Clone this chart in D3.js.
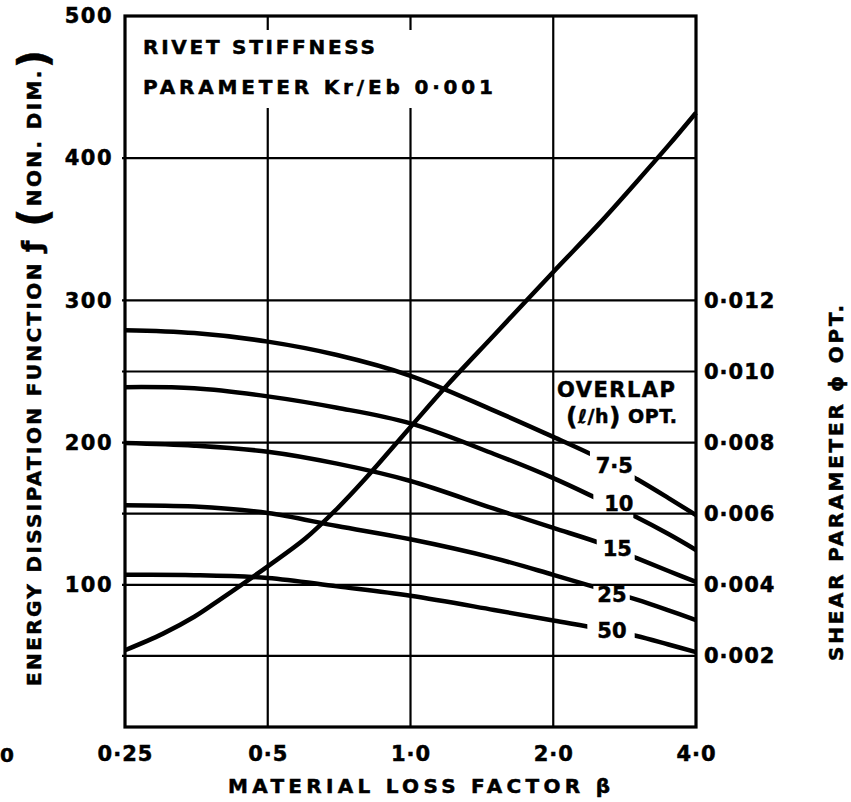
<!DOCTYPE html>
<html>
<head>
<meta charset="utf-8">
<script src="https://cdn.jsdelivr.net/npm/d3@7"></script>
<style>
  body { margin: 0; background: #fff; }
  text { font-family: "DejaVu Sans", sans-serif; font-weight: bold; fill: #000; stroke: #000; stroke-width: 0.5px; }
</style>
</head>
<body>
<svg id="chart" width="851" height="802"></svg>
<script>
// Material loss factor (log2 axis) and its tick labels
const betaTicks = [0.25, 0.5, 1, 2, 4];
const betaTickLabels = ["0·25", "0·5", "1·0", "2·0", "4·0"];

// Energy dissipation function f — left axis
const fTicks = [100, 200, 300, 400, 500];
const fTickLabels = ["100", "200", "300", "400", "500"];
const fGrid = [50, 100, 150, 200, 250, 300, 400];

// Optimum shear parameter phi — right axis
const phiTicks = [0.002, 0.004, 0.006, 0.008, 0.010, 0.012];
const phiTickLabels = ["0·002", "0·004", "0·006", "0·008", "0·010", "0·012"];
const phiPerF = 0.002 / 50;

// Energy dissipation function vs beta
const dissipationBeta = [0.25, 0.3, 0.35, 0.4, 0.5, 0.6, 0.7, 0.8, 1.0, 1.2, 1.5, 2.0, 2.5, 3.0, 3.5, 4.0];
const dissipation = [54, 65.5, 77.5, 90.5, 113, 132.5, 153.5, 174, 211, 241, 275.5, 320, 354, 383.5, 409, 432];

// Optimum overlap curves, read on the left (f) scale
const overlapBeta = [0.25, 0.35, 0.5, 0.7, 1.0, 1.5, 2.0, 2.5, 3.0, 3.5, 4.0];
const overlap7_5 = [279, 277, 271, 261.6, 247, 222.5, 204, 189, 174.4, 161, 149];
const overlap10  = [239, 238.2, 232.5, 224.5, 213.5, 192, 175, 160, 147.5, 135.7, 124.5];
const overlap15  = [199.7, 197.8, 193.6, 185.2, 173, 153.5, 140, 129.5, 118.8, 109.7, 102];
const overlap25  = [156, 155, 150.5, 141.3, 132, 118.8, 107, 97.5, 89.5, 82, 75.2];
const overlap50  = [107, 106.8, 104.8, 98.9, 92.3, 82.3, 74.9, 69.2, 64, 58, 52.7];

// In-line labels of the overlap curves and the breaks left for them
const overlapLabels = ["7·5", "10", "15", "25", "50"];
const labelBeta = [2.69, 2.75, 2.73, 2.66, 2.66];
const labelF = [183.5, 156.8, 125, 92.8, 67.5];
const gapStart = [2.39, 2.43, 2.47, 2.43, 2.36];
const gapEnd = [2.97, 2.95, 2.97, 2.90, 2.97];

const W = 851, H = 802;
const margin = { top: 16, right: 155, bottom: 75, left: 125 };
const x0 = margin.left, x1 = W - margin.right;
const y0 = H - margin.bottom, y1 = margin.top;

const svg = d3.select("#chart");

const x = d3.scaleLog().base(2).domain([0.25, 4]).range([x0, x1]);
const y = d3.scaleLinear().domain([0, 500]).range([y0, y1]);
const yPhi = d3.scaleLinear().domain([0, 500 * phiPerF]).range([y0, y1]);

// grid
const grid = svg.append("g").attr("stroke", "#000").attr("stroke-width", 2.2);
grid.selectAll("line.h").data(fGrid).join("line")
  .attr("class", "h")
  .attr("x1", x0 - 3).attr("x2", x1)
  .attr("y1", d => y(d)).attr("y2", d => y(d));
grid.selectAll("line.v").data(betaTicks.slice(1, -1)).join("line")
  .attr("class", "v")
  .attr("x1", d => x(d)).attr("x2", d => x(d))
  .attr("y1", y1).attr("y2", y0);

// clear space for the stiffness note
svg.append("rect")
  .attr("x", x0 + 3).attr("y", 30)
  .attr("width", 375).attr("height", 78)
  .attr("fill", "#fff");

// frame
svg.append("rect")
  .attr("x", x0).attr("y", y1)
  .attr("width", x1 - x0).attr("height", y0 - y1)
  .attr("fill", "none").attr("stroke", "#000").attr("stroke-width", 3.2);

// axes (labels only)
const styleAxis = g => {
  g.select(".domain").remove();
  g.selectAll("text").attr("font-family", null).attr("fill", null);
  g.attr("font-family", null).attr("font-size", null);
};

svg.append("g")
  .attr("transform", `translate(0,${y0})`)
  .call(d3.axisBottom(x).tickValues(betaTicks).tickFormat((d, i) => betaTickLabels[i]).tickSize(0).tickPadding(19))
  .call(styleAxis)
  .selectAll("text").style("font-size", "21px").style("letter-spacing", "1px");

svg.append("g")
  .attr("transform", `translate(${x0},0)`)
  .call(d3.axisLeft(y).tickValues(fTicks).tickFormat((d, i) => fTickLabels[i]).tickSize(0).tickPadding(12))
  .call(styleAxis)
  .selectAll("text").style("font-size", "21px").style("letter-spacing", "1.5px");

svg.append("g")
  .attr("transform", `translate(${x1},0)`)
  .call(d3.axisRight(yPhi).tickValues(phiTicks).tickFormat((d, i) => phiTickLabels[i]).tickSize(0).tickPadding(8))
  .call(styleAxis)
  .selectAll("text").style("font-size", "21px").style("letter-spacing", "1px");

svg.append("text")
  .attr("x", 14).attr("y", 762)
  .attr("text-anchor", "end")
  .style("font-size", "20px")
  .text("0");

// curves
const line = d3.line()
  .x(d => x(d[0])).y(d => y(d[1]))
  .curve(d3.curveCatmullRom.alpha(0.5));

svg.append("path")
  .datum(dissipationBeta.map((b, i) => [b, dissipation[i]]))
  .attr("d", line)
  .attr("fill", "none").attr("stroke", "#000").attr("stroke-width", 4.5);

const defs = svg.append("defs");
const overlapSeries = [overlap7_5, overlap10, overlap15, overlap25, overlap50];
overlapSeries.forEach((vals, i) => {
  const m = defs.append("mask").attr("id", "gap" + i)
    .attr("maskUnits", "userSpaceOnUse")
    .attr("x", 0).attr("y", 0).attr("width", W).attr("height", H);
  m.append("rect").attr("width", W).attr("height", H).attr("fill", "#fff");
  m.append("rect")
    .attr("x", x(gapStart[i])).attr("y", 0)
    .attr("width", x(gapEnd[i]) - x(gapStart[i])).attr("height", H)
    .attr("fill", "#000");

  svg.append("path")
    .datum(overlapBeta.map((b, j) => [b, vals[j]]))
    .attr("d", line)
    .attr("mask", `url(#gap${i})`)
    .attr("fill", "none").attr("stroke", "#000").attr("stroke-width", 4.5);

  svg.append("text")
    .attr("x", x(labelBeta[i])).attr("y", y(labelF[i]))
    .attr("text-anchor", "middle").attr("dominant-baseline", "central")
    .style("font-size", "21px")
    .text(overlapLabels[i]);
});

// notes
svg.append("text").attr("x", 143).attr("y", 54)
  .attr("textLength", 232).attr("lengthAdjust", "spacing")
  .style("font-size", "20px").text("RIVET STIFFNESS");
svg.append("text").attr("x", 143).attr("y", 94)
  .attr("textLength", 350).attr("lengthAdjust", "spacing")
  .style("font-size", "20px").text("PARAMETER Kr/Eb 0·001");

svg.append("text").attr("x", 557).attr("y", 397)
  .attr("textLength", 118).attr("lengthAdjust", "spacing")
  .style("font-size", "21px").text("OVERLAP");
const ov = svg.append("text").attr("x", 566).attr("y", 423)
  .attr("textLength", 111).attr("lengthAdjust", "spacing")
  .style("font-size", "19px");
ov.append("tspan").style("font-size", "25px").attr("dy", 2).text("(");
ov.append("tspan").attr("dy", -2).text("ℓ/h");
ov.append("tspan").style("font-size", "25px").attr("dy", 2).text(")");
ov.append("tspan").attr("dy", -2).text(" OPT.");

// axis titles
svg.append("text")
  .attr("x", 419).attr("y", 793)
  .attr("text-anchor", "middle")
  .attr("textLength", 382).attr("lengthAdjust", "spacing")
  .style("font-size", "20px")
  .text("MATERIAL LOSS FACTOR β");

const lt = svg.append("text")
  .attr("transform", "translate(41,368) rotate(-90)")
  .attr("text-anchor", "middle")
  .attr("textLength", 636).attr("lengthAdjust", "spacing")
  .style("font-size", "20px");
lt.append("tspan").text("ENERGY DISSIPATION FUNCTION ");
lt.append("tspan").style("font-size", "26px").text("ƒ ");
lt.append("tspan").style("font-size", "40px").attr("dy", 6).text("(");
lt.append("tspan").attr("dy", -6).text("NON. DIM.");
lt.append("tspan").style("font-size", "40px").attr("dy", 6).text(")");

svg.append("text")
  .attr("transform", "translate(843,483) rotate(-90)")
  .attr("text-anchor", "middle")
  .attr("textLength", 356).attr("lengthAdjust", "spacing")
  .style("font-size", "20px")
  .text("SHEAR PARAMETER ϕ OPT.");
</script>
</body>
</html>
